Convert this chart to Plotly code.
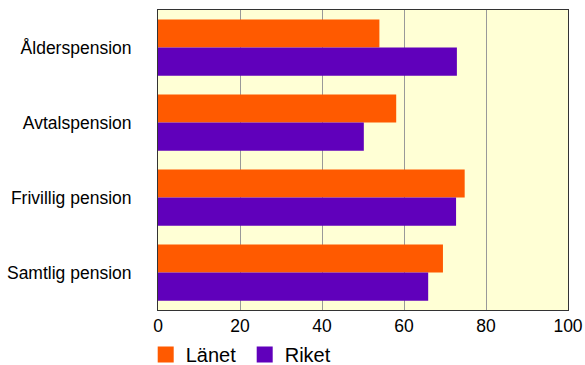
import plotly.graph_objects as go

# Data
categories = ["Ålderspension", "Avtalspension", "Frivillig pension", "Samtlig pension"]
lanet = [54.0, 58.1, 74.8, 69.5]
riket = [72.9, 50.2, 72.7, 65.9]

ORANGE = "#FF5A00"
PURPLE = "#6000BB"

fig = go.Figure()

fig.add_trace(go.Bar(
    name="Länet", y=categories, x=lanet, orientation="h",
    marker=dict(color=ORANGE, line=dict(width=0)), showlegend=False
))
fig.add_trace(go.Bar(
    name="Riket", y=categories, x=riket, orientation="h",
    marker=dict(color=PURPLE, line=dict(width=0)), showlegend=False
))

# legend entries with bigger square swatches
for name, col in [("Länet", ORANGE), ("Riket", PURPLE)]:
    fig.add_trace(go.Scatter(
        x=[None], y=[None], mode="markers", name=name,
        marker=dict(symbol="square", size=16, color=col)
    ))

fig.update_layout(
    width=585, height=365,
    margin=dict(l=158, r=17, t=10, b=55, autoexpand=False),
    barmode="group", bargap=0.25, bargroupgap=0,
    paper_bgcolor="white", plot_bgcolor="#FFFFD5",
    font=dict(family="Liberation Sans, Arial, sans-serif", size=17.5, color="black"),
    legend=dict(
        orientation="h", x=-0.03, xanchor="left", y=-0.148, yanchor="middle",
        font=dict(size=20), entrywidth=54, entrywidthmode="pixels",
        bgcolor="rgba(0,0,0,0)"
    ),
    xaxis=dict(
        range=[0, 100], dtick=20, showgrid=True, gridcolor="#999999", gridwidth=1,
        showline=True, linecolor="#333333", linewidth=1, mirror=True,
        zeroline=False, ticks="", fixedrange=True, automargin=False
    ),
    yaxis=dict(
        autorange="reversed", showgrid=False,
        showline=True, linecolor="#333333", linewidth=1, mirror=True,
        ticks="", ticklabelstandoff=22, fixedrange=True, automargin=False
    ),
)

# drop the page's default body margin so the figure sits at the window corner
fig.write_html("out.html", config={"displayModeBar": False},
               post_script="document.body.style.margin='0';")
